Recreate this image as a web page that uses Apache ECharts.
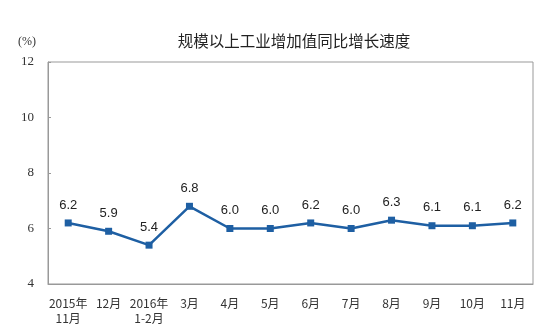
<!DOCTYPE html>
<html>
<head>
<meta charset="utf-8">
<script src="https://cdn.jsdelivr.net/npm/echarts@6/dist/echarts.min.js"></script>
<style>
  html, body { margin: 0; padding: 0; background: #fff; }
  #chart { width: 540px; height: 334px; }
</style>
</head>
<body>
<div id="chart"></div>
<script>
// Monthly year-on-year growth of industrial value added (%)
const months = ['2015年\n11月', '12月', '2016年\n1-2月', '3月', '4月', '5月', '6月', '7月', '8月', '9月', '10月', '11月'];
const growth = [6.2, 5.9, 5.4, 6.8, 6.0, 6.0, 6.2, 6.0, 6.3, 6.1, 6.1, 6.2];
const yTicks = [4, 6, 8, 10, 12];

const chart = echarts.init(document.getElementById('chart'));
chart.setOption({
  animation: false,
  backgroundColor: '#fff',
  title: {
    text: '规模以上工业增加值同比增长速度',
    left: 289,
    textAlign: 'center',
    top: 28,
    textStyle: { fontFamily: 'Noto Sans CJK SC', fontSize: 15.5, fontWeight: 'normal', color: '#222' }
  },
  graphic: [{
    type: 'text',
    left: 18,
    top: 36,
    style: { text: '(%)', font: '12px "Liberation Serif"', fill: '#333' }
  }],
  grid: {
    left: 48, right: 7, top: 62, bottom: 50,
    show: true, borderColor: '#999', borderWidth: 1, backgroundColor: 'transparent'
  },
  xAxis: {
    type: 'category',
    data: months,
    boundaryGap: true,
    axisLine: { lineStyle: { color: '#999' } },
    axisTick: { inside: true, length: 4, lineStyle: { color: '#999' } },
    axisLabel: {
      interval: 0, margin: 12, color: '#333', lineHeight: 15,
      fontFamily: 'Noto Sans CJK SC', fontSize: 12
    }
  },
  yAxis: {
    type: 'value',
    min: yTicks[0], max: yTicks[yTicks.length - 1], interval: 2,
    splitLine: { show: false },
    axisLine: { show: true, lineStyle: { color: '#999' } },
    axisTick: { show: true, inside: true, length: 3, lineStyle: { color: '#999' } },
    axisLabel: { margin: 14, color: '#333', fontFamily: 'Liberation Serif', fontSize: 13 }
  },
  series: [{
    type: 'line',
    data: growth,
    symbol: 'rect',
    symbolSize: 7,
    itemStyle: { color: '#1e5fa3' },
    lineStyle: { color: '#1e5fa3', width: 2.5 },
    label: {
      show: true, position: 'top', distance: 8,
      formatter: p => p.value.toFixed(1),
      fontFamily: 'Liberation Sans', fontSize: 13, color: '#222'
    }
  }]
});
</script>
</body>
</html>
